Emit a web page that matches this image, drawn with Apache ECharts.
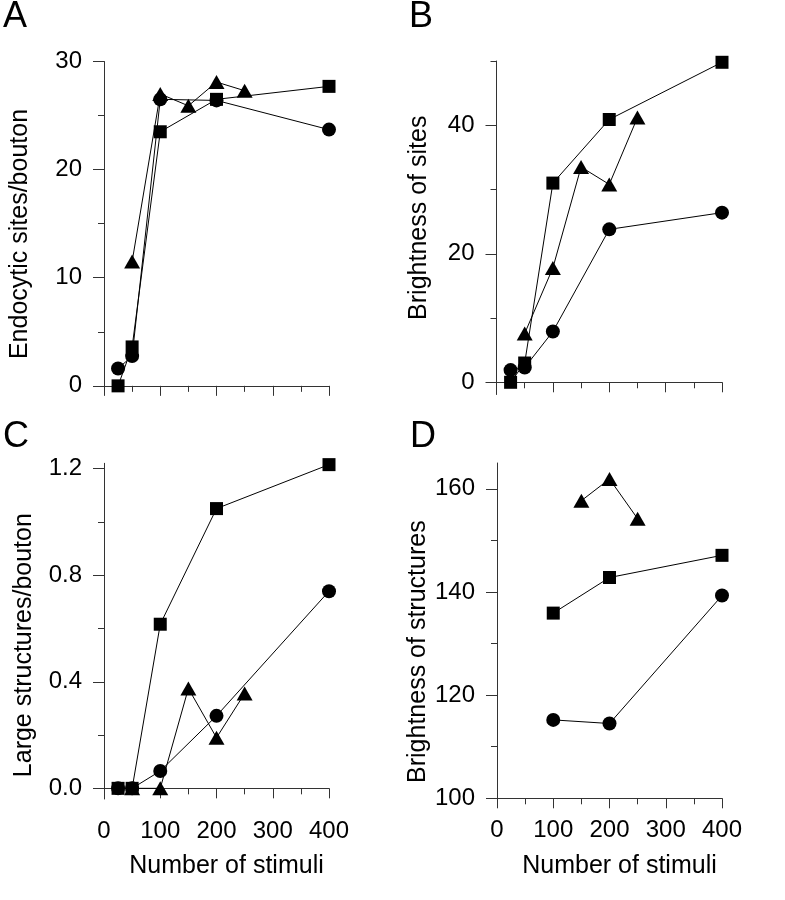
<!DOCTYPE html>
<html>
<head>
<meta charset="utf-8">
<script src="https://cdn.jsdelivr.net/npm/echarts@6/dist/echarts.min.js"></script>
<style>
  html, body { margin: 0; padding: 0; background: #fff; }
  #chart { width: 785px; height: 900px; }
</style>
</head>
<body>
<div id="chart"></div>
<script>
// ---------- data ----------
const stimuliMain = [25, 50, 100, 200, 400];
const stimuliTri = [50, 100, 150, 200, 250];
const stimuliD = [100, 200, 400];
const stimuliTriD = [150, 200, 250];

// A: Endocytic sites/bouton
const sitesSquare = [0, 3.6, 23.5, 26.5, 27.7];
const sitesCircle = [1.6, 2.75, 26.5, 26.4, 23.7];
const sitesTriangle = [11.5, 27.0, 25.9, 28.1, 27.3];

// B: Brightness of sites
const brightSitesSquare = [0, 3.0, 31.0, 40.9, 49.8];
const brightSitesCircle = [1.9, 2.3, 7.9, 23.8, 26.4];
const brightSitesTriangle = [7.6, 17.8, 33.5, 30.8, 41.2];

// C: Large structures/bouton
const largeSquare = [0, 0, 0.616, 1.05, 1.215];
const largeCircle = [0, 0, 0.065, 0.272, 0.74];
const largeTriangle = [0, 0, 0.375, 0.19, 0.356];

// D: Brightness of structures
const brightStructSquare = [135.9, 142.8, 147.1];
const brightStructCircle = [115.2, 114.5, 139.3];
const brightStructTriangle = [157.7, 161.9, 154.2];

// tick labels
const xTicks = [0, 100, 200, 300, 400];
const yTicksA = [0, 10, 20, 30];
const yMinorA = [5, 15, 25];
const yTicksB = [0, 20, 40];
const yMinorB = [10, 30, 50];
const yTicksC = [0, 0.4, 0.8, 1.2];
const yMinorC = [0.2, 0.6, 1.0];
const yTicksD = [100, 120, 140, 160];
const yMinorD = [110, 130, 150];

const panelLetters = ['A', 'B', 'C', 'D'];
const yNames = ['Endocytic sites/bouton', 'Brightness of sites', 'Large structures/bouton', 'Brightness of structures'];
const xName = 'Number of stimuli';

// ---------- build ----------
const FONT = 'Liberation Sans, Arial, Helvetica, sans-serif';
const AX = '#333';
const pair = (xs, ys) => xs.map((x, i) => [x, ys[i]]);

const grids = [
  { left: 104, top: 61.5, width: 225, height: 333 },
  { left: 496.5, top: 61, width: 225.5, height: 333.5 },
  { left: 104, top: 463.3, width: 225, height: 335.7 },
  { left: 497, top: 463, width: 225, height: 335.3 }
];
const yRanges = [[-0.8, 30], [-1.9, 50], [-0.04, 1.22], [100, 165]];
const yMajor = [yTicksA, yTicksB, yTicksC, yTicksD];
const yMinor = [yMinorA, yMinorB, yMinorC, yMinorD];
const yFmt = [v => String(v), v => String(v), v => v.toFixed(1), v => String(v)];
const yNamePad = [[0, 12, 0, 0], [0, 0, 0, 20], [0, 28, 0, 0], [0, 42, 0, 0]];
const yNameGap = [71, 65, 67, 66];

const xAxes = [], yAxes = [], series = [], titles = [];
const titlePos = [[3, -1], [409, -1], [3, 419], [410, 419]];

for (let g = 0; g < 4; g++) {
  titles.push({
    text: panelLetters[g], left: titlePos[g][0], top: titlePos[g][1], padding: 0,
    textStyle: { fontFamily: FONT, fontSize: 36, fontWeight: 'normal', color: '#000' }
  });
  const showX = g >= 2;
  xAxes.push({
    type: 'value', gridIndex: g, min: 0, max: 400, interval: 100,
    axisLine: { show: true, lineStyle: { color: AX, width: 1 } },
    axisTick: { show: true, length: 10, lineStyle: { color: AX, width: 1 } },
    minorTick: { show: true, splitNumber: 2, length: 6, lineStyle: { color: AX, width: 1 } },
    splitLine: { show: false },
    axisLabel: { show: showX, margin: 20, fontFamily: FONT, fontSize: 24, color: '#000',
      customValues: xTicks },
    name: showX ? xName : '', nameLocation: 'middle', nameGap: 55,
    nameTextStyle: { fontFamily: FONT, fontSize: 25, color: '#000', padding: [0, 0, 0, 20] }
  });
  // main y axis
  yAxes.push({
    type: 'value', gridIndex: g, min: yRanges[g][0], max: yRanges[g][1],
    axisLine: { show: true, lineStyle: { color: AX, width: 1 } },
    axisTick: { show: true, length: 11, customValues: yMajor[g], lineStyle: { color: AX, width: 1 } },
    axisLabel: { show: true, customValues: yMajor[g], formatter: yFmt[g], margin: 22,
      fontFamily: FONT, fontSize: 24, color: '#000' },
    splitLine: { show: false },
    name: yNames[g], nameLocation: 'middle', nameGap: yNameGap[g], nameRotate: 90,
    nameTextStyle: { fontFamily: FONT, fontSize: 25, color: '#000', padding: yNamePad[g] }
  });
  // minor y ticks
  yAxes.push({
    type: 'value', gridIndex: g, min: yRanges[g][0], max: yRanges[g][1], position: 'left',
    axisLine: { show: false },
    axisTick: { show: true, length: 6, customValues: yMinor[g], lineStyle: { color: AX, width: 1 } },
    axisLabel: { show: false },
    splitLine: { show: false }
  });
}

function addSeries(g, xs, ys, symbol, size) {
  series.push({
    type: 'line', xAxisIndex: g, yAxisIndex: g * 2, data: pair(xs, ys),
    symbol: symbol, symbolSize: size, showSymbol: true, clip: false, animation: false,
    lineStyle: { color: '#000', width: 1 },
    itemStyle: { color: '#000', borderWidth: 0 }
  });
}
const SQ = 13, CI = 14, TR = [16, 14];
addSeries(0, stimuliMain, sitesCircle, 'circle', CI);
addSeries(0, stimuliTri, sitesTriangle, 'triangle', TR);
addSeries(0, stimuliMain, sitesSquare, 'rect', SQ);

addSeries(1, stimuliMain, brightSitesCircle, 'circle', CI);
addSeries(1, stimuliTri, brightSitesTriangle, 'triangle', TR);
addSeries(1, stimuliMain, brightSitesSquare, 'rect', SQ);

addSeries(2, stimuliTri, largeTriangle, 'triangle', TR);
addSeries(2, stimuliMain, largeCircle, 'circle', CI);
addSeries(2, stimuliMain, largeSquare, 'rect', SQ);

addSeries(3, stimuliD, brightStructCircle, 'circle', CI);
addSeries(3, stimuliTriD, brightStructTriangle, 'triangle', TR);
addSeries(3, stimuliD, brightStructSquare, 'rect', SQ);

const chart = echarts.init(document.getElementById('chart'), null, { renderer: 'canvas' });
chart.setOption({
  animation: false,
  backgroundColor: '#fff',
  title: titles,
  grid: grids,
  xAxis: xAxes,
  yAxis: yAxes,
  series: series
});
</script>
</body>
</html>
